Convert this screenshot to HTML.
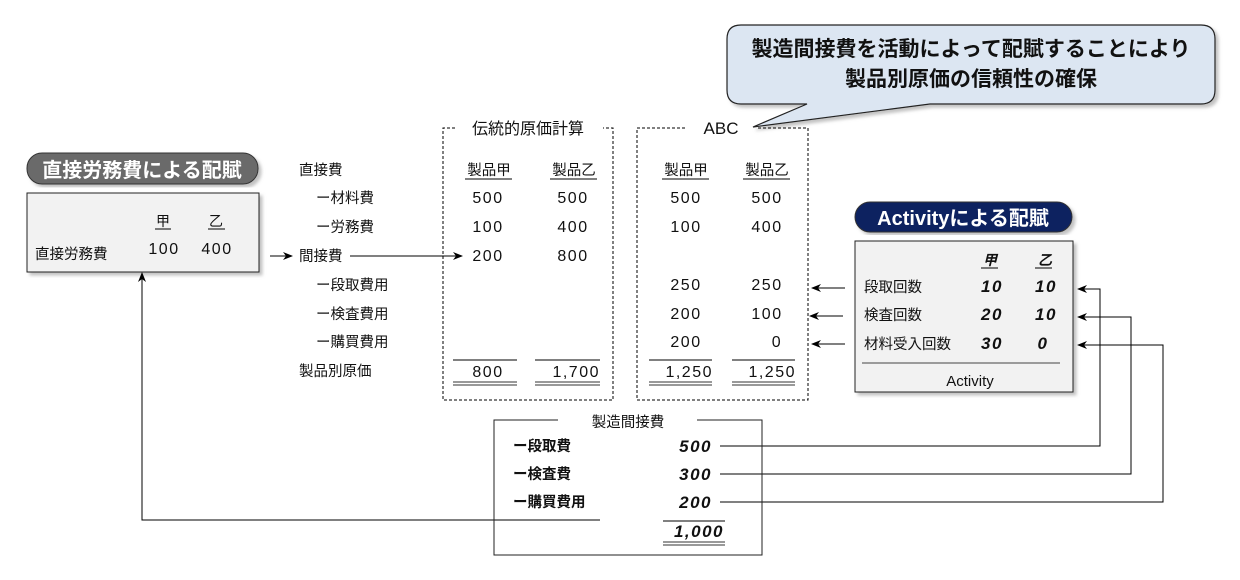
<!DOCTYPE html>
<html><head><meta charset="utf-8"><style>
html,body{margin:0;padding:0;background:#fff;width:1240px;height:580px;overflow:hidden}
svg text{font-family:"Liberation Sans","Noto Sans CJK JP",sans-serif;fill:#111}
.m{text-anchor:middle}.e{text-anchor:end}
.it{font-style:italic;font-weight:bold}
.d{letter-spacing:1.5px}
</style></head><body>
<svg width="1240" height="580" viewBox="0 0 1240 580" xmlns="http://www.w3.org/2000/svg">
<defs>
<marker id="a" markerWidth="10" markerHeight="8" refX="9" refY="4" orient="auto" markerUnits="userSpaceOnUse">
<path d="M0,0 L10,4 L0,8 L3,4 Z" fill="#000"/></marker>
<filter id="sh"><feDropShadow dx="3" dy="3" stdDeviation="1.5" flood-color="#999" flood-opacity="0.6"/></filter>
</defs>

<path d="M741,25 H1201 Q1215,25 1215,39 V90 Q1215,104 1201,104 H930 L753,127 L807,104 H741 Q727,104 727,90 V39 Q727,25 741,25 Z" fill="#dce6f2" stroke="#222" stroke-width="1.2" filter="url(#sh)"/>
<text x="971" y="56" class="m" font-size="21" font-weight="bold">製造間接費を活動によって配賦することにより</text>
<text x="971" y="86" class="m" font-size="21" font-weight="bold">製品別原価の信頼性の確保</text>

<path d="M455,128 H443 V400 H613 V128 H603" fill="none" stroke="#000" stroke-dasharray="3,2"/>
<text x="528" y="134" class="m" font-size="16">伝統的原価計算</text>
<path d="M685,128 H637 V400 H808 V128 H757" fill="none" stroke="#000" stroke-dasharray="3,2"/>
<text x="721" y="134" class="m" font-size="17">ABC</text>

<g font-size="14.5">
<text x="299" y="175">直接費</text>
<text x="316" y="203">ー材料費</text>
<text x="316" y="232">ー労務費</text>
<text x="299" y="261">間接費</text>
<text x="316" y="290">ー段取費用</text>
<text x="316" y="319">ー検査費用</text>
<text x="316" y="347">ー購買費用</text>
<text x="299" y="376">製品別原価</text>
</g>
<line x1="270" y1="256" x2="292" y2="256" stroke="#000" marker-end="url(#a)"/>
<line x1="350" y1="256" x2="462" y2="256" stroke="#000" marker-end="url(#a)"/>

<g font-size="14.5">
<text x="489" y="175" class="m">製品甲</text>
<text x="574" y="175" class="m">製品乙</text>
<text x="686" y="175" class="m">製品甲</text>
<text x="767" y="175" class="m">製品乙</text>
</g>
<g stroke="#000">
<line x1="465" y1="179" x2="512" y2="179"/><line x1="550" y1="179" x2="597" y2="179"/>
<line x1="662" y1="179" x2="709" y2="179"/><line x1="743" y1="179" x2="790" y2="179"/>
</g>
<g font-size="16">
<text x="488" y="203" class="m d">500</text><text x="573" y="203" class="m d">500</text>
<text x="488" y="232" class="m d">100</text><text x="573" y="232" class="m d">400</text>
<text x="488" y="261" class="m d">200</text><text x="573" y="261" class="m d">800</text>
<text x="686" y="203" class="m d">500</text><text x="767" y="203" class="m d">500</text>
<text x="686" y="232" class="m d">100</text><text x="767" y="232" class="m d">400</text>
<text x="686" y="290" class="m d">250</text><text x="767" y="290" class="m d">250</text>
<text x="686" y="319" class="m d">200</text><text x="767" y="319" class="m d">100</text>
<text x="686" y="347" class="m d">200</text><text x="777" y="347" class="m d">0</text>
<text x="488" y="377" class="m d">800</text><text x="600" y="377" class="e d">1,700</text>
<text x="713" y="377" class="e d">1,250</text><text x="796" y="377" class="e d">1,250</text>
</g>
<g stroke="#000">
<line x1="453" y1="360" x2="517" y2="360"/><line x1="535" y1="360" x2="600" y2="360"/>
<line x1="649" y1="360" x2="712" y2="360"/><line x1="732" y1="360" x2="795" y2="360"/>
</g>
<g stroke="#333" stroke-width="1">
<line x1="453" y1="382" x2="517" y2="382"/><line x1="453" y1="385" x2="517" y2="385"/>
<line x1="535" y1="382" x2="600" y2="382"/><line x1="535" y1="385" x2="600" y2="385"/>
<line x1="649" y1="382" x2="712" y2="382"/><line x1="649" y1="385" x2="712" y2="385"/>
<line x1="732" y1="382" x2="795" y2="382"/><line x1="732" y1="385" x2="795" y2="385"/>
</g>

<rect x="27" y="153" width="231" height="31" rx="15" fill="#6b6b6b" stroke="#333" filter="url(#sh)"/>
<text x="142" y="177" class="m" font-size="20" font-weight="bold" style="fill:#fff">直接労務費による配賦</text>
<rect x="27" y="193" width="232" height="79" fill="#f2f2f2" stroke="#222" filter="url(#sh)"/>
<text x="163" y="226" class="m" font-size="14">甲</text><text x="216" y="226" class="m" font-size="14">乙</text>
<line x1="155" y1="229" x2="171" y2="229" stroke="#000"/><line x1="208" y1="229" x2="225" y2="229" stroke="#000"/>
<text x="35" y="259" font-size="14.5">直接労務費</text>
<text x="164" y="254" class="m d" font-size="16">100</text><text x="217" y="254" class="m d" font-size="16">400</text>
<polyline points="600,520 142,520 142,273" fill="none" stroke="#000" marker-end="url(#a)"/>

<rect x="855" y="202" width="217" height="30" rx="15" fill="#0f2260" stroke="#333" filter="url(#sh)"/>
<text x="963" y="225" class="m" font-size="20" font-weight="bold" style="fill:#fff">Activityによる配賦</text>
<rect x="855" y="241" width="218" height="151" fill="#f2f2f2" stroke="#222" filter="url(#sh)"/>
<text x="990" y="265" class="m it" font-size="14">甲</text><text x="1045" y="265" class="m it" font-size="14">乙</text>
<line x1="981" y1="268" x2="998" y2="268" stroke="#000"/><line x1="1035" y1="268" x2="1052" y2="268" stroke="#000"/>
<g font-size="14.5">
<text x="864" y="292">段取回数</text><text x="864" y="320">検査回数</text><text x="864" y="349">材料受入回数</text>
</g>
<g font-size="17">
<text x="992" y="292" class="m it d">10</text><text x="1046" y="292" class="m it d">10</text>
<text x="992" y="320" class="m it d">20</text><text x="1046" y="320" class="m it d">10</text>
<text x="992" y="349" class="m it d">30</text><text x="1043" y="349" class="m it d">0</text>
</g>
<line x1="862" y1="363" x2="1060" y2="363" stroke="#444"/>
<text x="970" y="386" class="m" font-size="15">Activity</text>
<g stroke="#000">
<line x1="845" y1="288" x2="812" y2="288" marker-end="url(#a)"/>
<line x1="843" y1="316" x2="810" y2="316" marker-end="url(#a)"/>
<line x1="845" y1="344" x2="812" y2="344" marker-end="url(#a)"/>
</g>
<g stroke="#000" fill="none">
<polyline points="720,446 1100,446 1100,289 1078,289" marker-end="url(#a)"/>
<polyline points="720,474 1131,474 1131,317 1078,317" marker-end="url(#a)"/>
<polyline points="720,502 1163,502 1163,345 1078,345" marker-end="url(#a)"/>
</g>

<path d="M558,420 H494 V555 H762 V420 H697" fill="none" stroke="#222"/>
<text x="628" y="427" class="m" font-size="14.5">製造間接費</text>
<g font-size="14.5" font-weight="bold">
<text x="513" y="451">ー段取費</text><text x="513" y="479">ー検査費</text><text x="513" y="507">ー購買費用</text>
</g>
<g font-size="17">
<text x="712" y="452" class="e it d">500</text><text x="712" y="480" class="e it d">300</text>
<text x="712" y="508" class="e it d">200</text><text x="724" y="537" class="e it d">1,000</text>
</g>
<line x1="663" y1="521" x2="725" y2="521" stroke="#000"/>
<line x1="663" y1="542" x2="725" y2="542" stroke="#333"/><line x1="663" y1="545" x2="725" y2="545" stroke="#333"/>
</svg>
</body></html>
